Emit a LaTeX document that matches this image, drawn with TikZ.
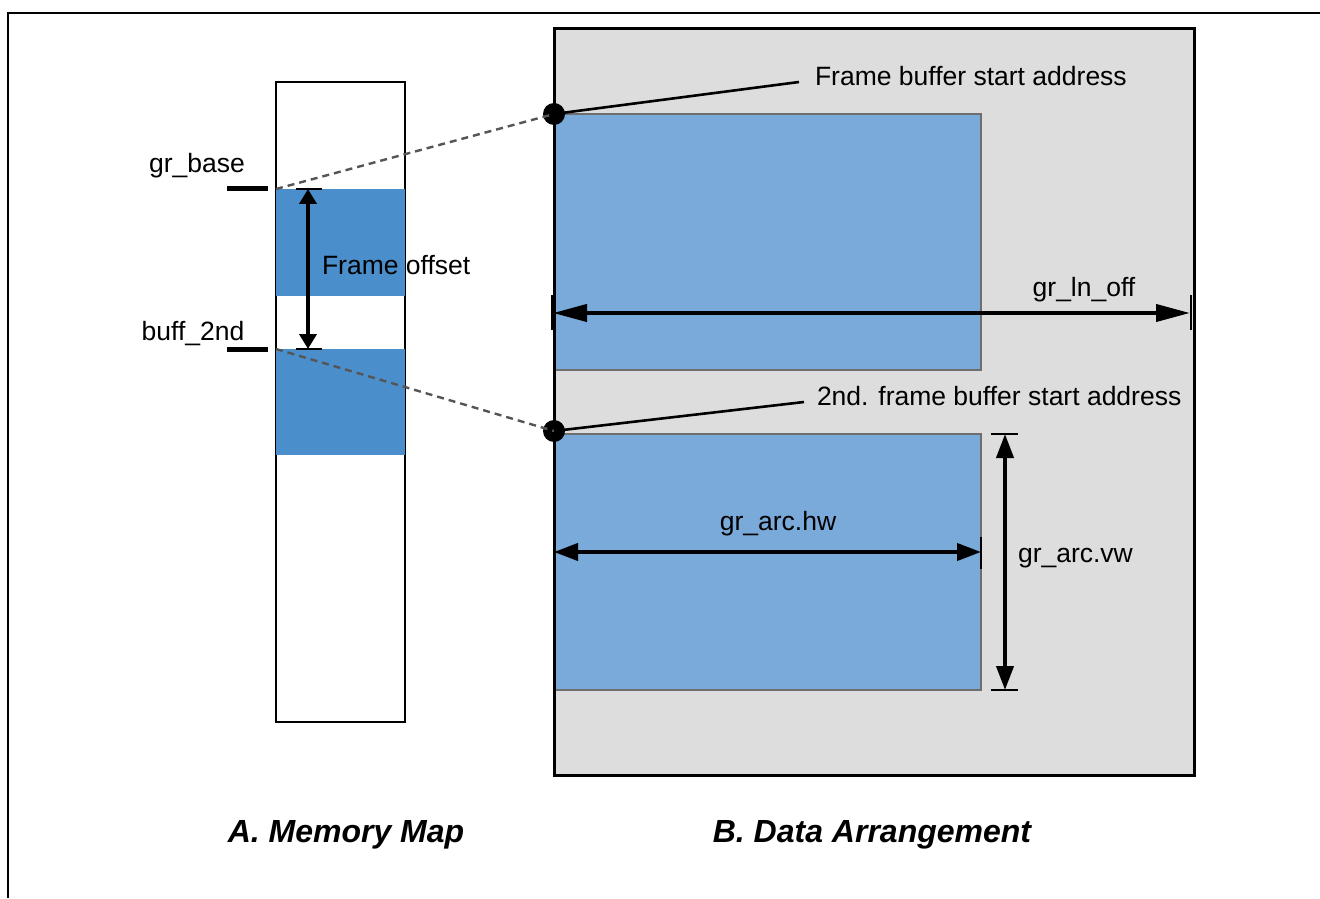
\documentclass[tikz,border=0pt]{standalone}
\usepackage{fontspec}
\setmainfont{Liberation Sans}
\usetikzlibrary{arrows.meta}
\definecolor{memblue}{RGB}{74,143,203}
\definecolor{datablue}{RGB}{121,170,218}
\definecolor{boxgray}{RGB}{221,221,221}
\definecolor{rectedge}{RGB}{110,110,110}
\definecolor{dashgray}{RGB}{85,85,85}
\begin{document}
\begin{tikzpicture}[x=0.5pt,y=-0.5pt,
  lbl/.style={font=\fontsize{13.25}{16}\selectfont, inner sep=0pt, outer sep=0pt},
  captxt/.style={font=\fontsize{16}{19}\selectfont\bfseries\itshape, inner sep=0pt},
  boxnode/.style={inner sep=0pt, outer sep=0pt, anchor=north west},
  memcol/.style={boxnode, draw=black, line width=1pt, fill=white},
  memblk/.style={boxnode, fill=memblue},
  graybox/.style={boxnode, fill=boxgray},
  datarect/.style={boxnode, fill=datablue, draw=rectedge, line width=1pt},
  dotnode/.style={circle, fill=black, inner sep=0pt, minimum size=11pt},
  framerule/.style={line width=1.2pt, black},
  tickmark/.style={line width=2.5pt, black},
  dashlink/.style={dashgray, line width=1.2pt, dash pattern=on 3.5pt off 2.5pt},
  leader/.style={black, line width=1.3pt},
  endbar/.style={black, line width=0.8pt},
  bigdim/.style={line width=2pt, {Triangle[length=17pt,width=8.5pt]}-{Triangle[length=17pt,width=8.5pt]}},
  middim/.style={line width=2pt, {Triangle[length=12pt,width=8.5pt]}-{Triangle[length=12pt,width=8.5pt]}},
  smalldim/.style={line width=2pt, {Triangle[length=7.5pt,width=8.5pt]}-{Triangle[length=7.5pt,width=8.5pt]}}
]
\useasboundingbox (0,0) rectangle (1320,898);

% outer frame
\coordinate (ftl) at (8,13);
\coordinate (ftr) at (1320,13);
\coordinate (fbl) at (8,898);
\draw[framerule] (ftr) -- (ftl) -- (fbl);

% ---------- A. Memory map ----------
\node[memcol, minimum width=64.5pt, minimum height=320pt] (mem) at (276,82) {};
\node[memblk, minimum width=64.5pt, minimum height=53.5pt] (blk1) at (276,189) {};
\node[memblk, minimum width=64.5pt, minimum height=53pt] (blk2) at (276,349) {};

\coordinate (t1a) at (227,189); \coordinate (t1b) at (268,189);
\coordinate (t2a) at (227,349); \coordinate (t2b) at (268,349);
\draw[tickmark] (t1a) -- (t1b);
\draw[tickmark] (t2a) -- (t2b);
\node[lbl] (grbase) at (197,166) {gr\_base};
\node[lbl] (buff) at (193,334) {buff\_2nd};

% frame offset dimension
\coordinate (fo1) at (308,189); \coordinate (fo2) at (308,349);
\coordinate (fo1a) at (296,189); \coordinate (fo1b) at (322,189);
\coordinate (fo2a) at (296,349); \coordinate (fo2b) at (322,349);
\draw[endbar] (fo1a) -- (fo1b);
\draw[endbar] (fo2a) -- (fo2b);
\draw[smalldim] (fo1) -- (fo2);
\node[lbl, anchor=west] (foff) at (322,265) {Frame offset};

% ---------- B. Data arrangement ----------
\node[graybox, minimum width=320pt, minimum height=373pt] (gbox) at (554,29) {};
\node[datarect, minimum width=213.5pt, minimum height=128pt] (fb1) at (554,114) {};
\node[datarect, minimum width=213.5pt, minimum height=128pt] (fb2) at (554,434) {};
\draw[line width=1.5pt, black] (gbox.north west) rectangle (gbox.south east);

% start address dots and leaders
\node[dotnode] (d1) at (554,114) {};
\node[dotnode] (d2) at (554,431) {};
\coordinate (l1) at (799,82);
\coordinate (l2) at (804,402);
\draw[leader] (d1.center) -- (l1);
\draw[leader] (d2.center) -- (l2);
\node[lbl, anchor=west] (fbsa) at (815,76) {Frame buffer start address};
\node[lbl, anchor=west] (fbsb) at (817,396) {2nd. frame buffer start address};

% dashed links memory map -> data arrangement
\draw[dashlink] (blk1.north west) -- (d1.center);
\draw[dashlink] (blk2.north west) -- (d2.center);

% gr_ln_off
\coordinate (ln1) at (553,313); \coordinate (ln2) at (1190,313);
\coordinate (lnb1a) at (552,295); \coordinate (lnb1b) at (552,330);
\coordinate (lnb2a) at (1191,295); \coordinate (lnb2b) at (1191,330);
\draw[endbar] (lnb1a) -- (lnb1b);
\draw[endbar] (lnb2a) -- (lnb2b);
\draw[bigdim] (ln1) -- (ln2);
\node[lbl] (lnoff) at (1084,290) {gr\_ln\_off};

% gr_arc.hw
\coordinate (hw1) at (554,552); \coordinate (hw2) at (981,552);
\coordinate (hwb1a) at (554,537); \coordinate (hwb1b) at (554,569);
\coordinate (hwb2a) at (981,537); \coordinate (hwb2b) at (981,569);
\draw[endbar] (hwb1a) -- (hwb1b);
\draw[endbar] (hwb2a) -- (hwb2b);
\draw[middim] (hw1) -- (hw2);
\node[lbl] (hw) at (778,524) {gr\_arc.hw};

% gr_arc.vw
\coordinate (vw1) at (1005,434); \coordinate (vw2) at (1005,690);
\coordinate (vwb1a) at (991,434); \coordinate (vwb1b) at (1018,434);
\coordinate (vwb2a) at (991,690); \coordinate (vwb2b) at (1018,690);
\draw[endbar] (vwb1a) -- (vwb1b);
\draw[endbar] (vwb2a) -- (vwb2b);
\draw[middim] (vw1) -- (vw2);
\node[lbl, anchor=west] (vw) at (1018,558) {gr\_arc.vw};

% captions
\node[captxt] (capA) at (346,835) {A. Memory Map};
\node[captxt] (capB) at (872,835) {B. Data Arrangement};
\end{tikzpicture}
\end{document}
